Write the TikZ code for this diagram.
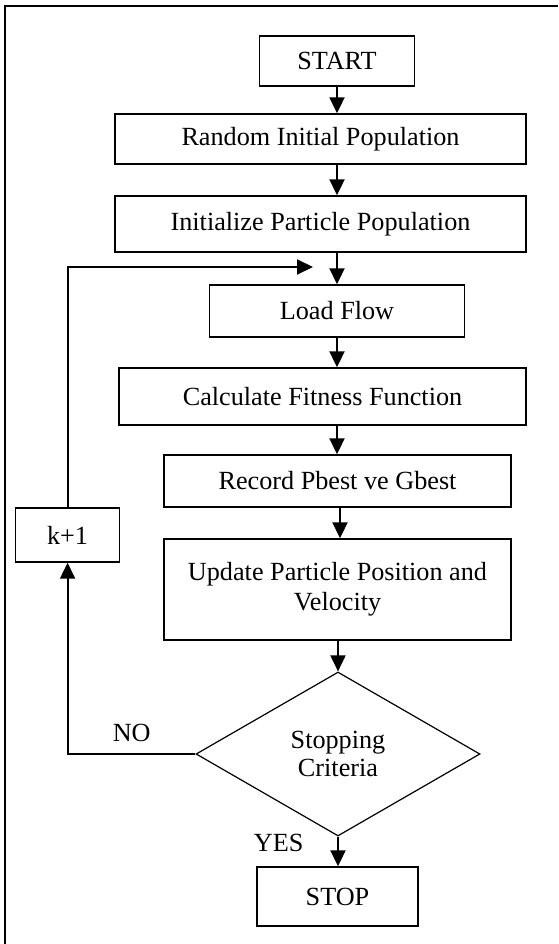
\documentclass[tikz,border=0pt]{standalone}
\usepackage{fontspec}
\setmainfont{Liberation Serif}
\usetikzlibrary{shapes.geometric,arrows.meta}
\begin{document}
\begin{tikzpicture}[x=1pt,y=-1pt,
  box/.style={draw,line width=1.4pt,inner sep=0pt,align=center,font=\fontsize{26.2}{30}\selectfont},
  lbl/.style={inner sep=0pt,font=\fontsize{26.2}{30}\selectfont},
  arr/.style={line width=2pt,-{Triangle[length=16pt,width=15pt]}},
  ln/.style={line width=2pt}]
\useasboundingbox (0,0) rectangle (558,944);
\draw[ln] (5,944) -- (5,6) -- (558,6);
\node[box,minimum width=155pt,minimum height=50pt] (start) at (337,61) {START};
\node[box,minimum width=411pt,minimum height=50pt] (rand) at (320.5,139) {Random Initial Population};
\node[box,minimum width=411pt,minimum height=56pt] (init) at (320.5,224) {Initialize Particle Population};
\node[box,minimum width=255pt,minimum height=52pt] (load) at (337,311) {Load Flow};
\node[box,minimum width=407pt,minimum height=57pt] (calc) at (322.5,396.5) {Calculate Fitness Function};
\node[box,minimum width=347pt,minimum height=52pt] (rec) at (337.5,481) {Record Pbest ve Gbest};
\node[box,minimum width=347pt,minimum height=101pt] (upd) at (337.5,589.5) {Update Particle Position and\\Velocity};
\node[box,diamond,minimum width=284pt,minimum height=164pt,line width=1.2pt] (dia) at (338,754) {Stopping\\[-2pt]Criteria};
\node[box,minimum width=104pt,minimum height=54pt] (k1) at (67.6,535) {k+1};
\node[box,minimum width=161pt,minimum height=59pt] (stop) at (337.5,896.5) {STOP};
\coordinate (lp) at (313,267);
\draw[arr] (start.south) -- (start.south |- rand.north);
\draw[arr] (rand.south -| start.south) -- (init.north -| start.south);
\draw[arr] (init.south -| load.north) -- (load.north);
\draw[arr] (load.south) -- (load.south |- calc.north);
\draw[arr] (calc.south -| load.south) -- (rec.north -| load.south);
\draw[arr] ([xshift=2.5pt]rec.south) -- ([xshift=2.5pt]rec.south |- upd.north);
\draw[arr] (upd.south -| dia.north) -- (dia.north);
\draw[arr] (dia.south) -- (stop.north -| dia.south);
\draw[arr] (dia.west) -| (k1.south);
\draw[arr] (k1.north) |- (lp);
\node[lbl] (no) at (131.7,733) {NO};
\node[lbl] (yes) at (278.6,843) {YES};
\end{tikzpicture}
\end{document}
